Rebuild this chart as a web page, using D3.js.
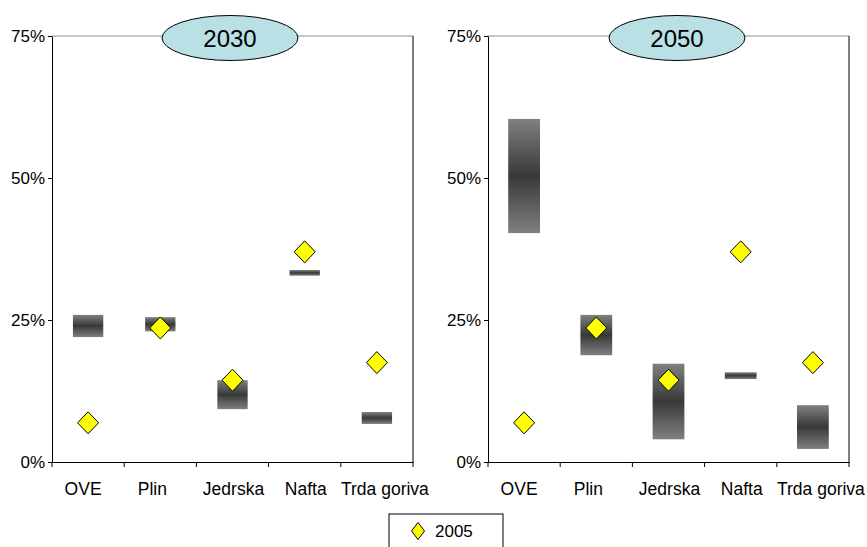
<!DOCTYPE html>
<html>
<head>
<meta charset="utf-8">
<script src="https://d3js.org/d3.v7.min.js"></script>
<style>
  body { margin: 0; background: #fff; }
  svg { display: block; font-family: "Liberation Sans", Arial, sans-serif; }
</style>
</head>
<body>
<svg id="chart" width="867" height="547"></svg>
<script>
// categories and data
const categories = ["OVE", "Plin", "Jedrska", "Nafta", "Trda goriva"];
const yTicks = [0, 0.25, 0.5, 0.75];

// 2005 share (diamonds), same on both panels
const share2005 = [0.069, 0.236, 0.144, 0.370, 0.175];

// 2030 range (low, high)
const low2030  = [0.220, 0.230, 0.093, 0.328, 0.067];
const high2030 = [0.259, 0.255, 0.144, 0.338, 0.088];

// 2050 range (low, high)
const low2050  = [0.403, 0.188, 0.040, 0.146, 0.023];
const high2050 = [0.604, 0.259, 0.173, 0.158, 0.100];

// excel-ish label placement, small nudges off the band centre
const labelNudge = [-5, -8, 1, 1, 8];

const panels = [
  { title: "2030", low: low2030, high: high2030, x0: 52, x1: 413, barW: 0.42, ellipseX: 230 },
  { title: "2050", low: low2050, high: high2050, x0: 488, x1: 849, barW: 0.44, ellipseX: 677 }
];

const svg = d3.select("#chart");
const yTop = 36, yBottom = 462;

const y = d3.scaleLinear().domain([0, 0.75]).range([yBottom, yTop]);

// vertical gradient for range boxes
const grad = svg.append("defs").append("linearGradient")
  .attr("id", "boxGrad").attr("x1", 0).attr("y1", 0).attr("x2", 0).attr("y2", 1);
grad.append("stop").attr("offset", "0%").attr("stop-color", "#808080");
grad.append("stop").attr("offset", "50%").attr("stop-color", "#383838");
grad.append("stop").attr("offset", "100%").attr("stop-color", "#808080");

// diamond marker
const diamond = (w, h) => `M0,${-h}L${w},0L0,${h}L${-w},0Z`;

panels.forEach(p => {
  const x = d3.scaleBand().domain(categories).range([p.x0, p.x1]).padding(0);
  const g = svg.append("g");

  // top and right border
  g.append("line").attr("x1", p.x0).attr("x2", p.x1).attr("y1", yTop).attr("y2", yTop)
    .attr("stroke", "#8c8c8c");
  g.append("line").attr("x1", p.x1).attr("x2", p.x1).attr("y1", yTop).attr("y2", yBottom)
    .attr("stroke", "#000");

  // y axis
  const ya = g.append("g").attr("transform", `translate(${p.x0},0)`)
    .call(d3.axisLeft(y).tickValues(yTicks).tickFormat(d3.format(".0%")).tickSize(4).tickSizeOuter(0).tickPadding(3));
  ya.selectAll("text").style("font-size", "17px").style("font-family", "'Liberation Sans', Arial").attr("fill", "#000");
  ya.selectAll(".tick line").attr("stroke", "#000");
  ya.select(".domain").attr("stroke", "#000");

  // x axis (labels at centres, ticks at band edges)
  const xa = g.append("g").attr("transform", `translate(0,${yBottom})`)
    .call(d3.axisBottom(x).tickSize(0).tickSizeOuter(0).tickPadding(21));
  xa.selectAll("text").style("font-size", "17.5px").style("font-family", "'Liberation Sans', Arial").attr("fill", "#000")
    .attr("dx", (d, i) => labelNudge[i]);
  xa.select(".domain").attr("stroke", "#000");
  g.selectAll(".xedge").data(categories.concat([null])).enter().append("line")
    .attr("x1", (d, i) => i < categories.length ? x(d) : p.x1)
    .attr("x2", (d, i) => i < categories.length ? x(d) : p.x1)
    .attr("y1", yBottom).attr("y2", yBottom + 5)
    .attr("stroke", "#000");

  // range boxes
  const bw = x.bandwidth() * p.barW;
  g.selectAll(".box").data(categories).enter().append("rect")
    .attr("x", d => x(d) + x.bandwidth() / 2 - bw / 2)
    .attr("width", bw)
    .attr("y", (d, i) => y(p.high[i]))
    .attr("height", (d, i) => y(p.low[i]) - y(p.high[i]))
    .attr("fill", "url(#boxGrad)");

  // 2005 diamonds
  g.selectAll(".pt").data(categories).enter().append("path")
    .attr("d", diamond(10.5, 11))
    .attr("transform", (d, i) => `translate(${x(d) + x.bandwidth() / 2},${y(share2005[i])})`)
    .attr("fill", "#ffff00").attr("stroke", "#000").attr("stroke-width", 1);

  // title ellipse
  g.append("ellipse").attr("cx", p.ellipseX).attr("cy", 38).attr("rx", 68).attr("ry", 22.5)
    .attr("fill", "#b9e0e4").attr("stroke", "#000");
  g.append("text").attr("x", p.ellipseX).attr("y", 47).attr("text-anchor", "middle")
    .style("font-size", "24px").text(p.title);
});

// legend
const lg = svg.append("g").attr("transform", "translate(389,514)");
lg.append("rect").attr("x", 0).attr("y", 0).attr("width", 114).attr("height", 40)
  .attr("fill", "#fff").attr("stroke", "#000");
lg.append("path").attr("d", diamond(6.5, 8.5)).attr("transform", "translate(29,17)")
  .attr("fill", "#ffff00").attr("stroke", "#000");
lg.append("text").attr("x", 46).attr("y", 23).style("font-size", "17px").text("2005");
</script>
</body>
</html>
